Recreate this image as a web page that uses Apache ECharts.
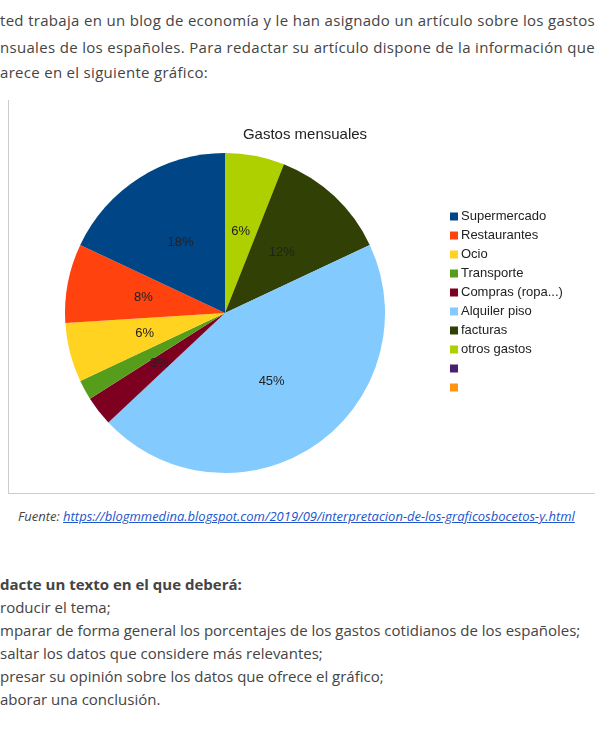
<!DOCTYPE html>
<html><head><meta charset="utf-8">
<script src="https://cdn.jsdelivr.net/npm/echarts@6/dist/echarts.min.js"></script>
<style>
body{margin:0;width:595px;height:740px;overflow:hidden;background:#fff;font-family:"Open Sans",sans-serif;color:#444;position:relative}
.t{position:absolute;left:0;white-space:nowrap;font-size:15px}
.j{width:595px;text-align:justify;text-align-last:justify;white-space:normal;overflow:hidden;height:22px;letter-spacing:0.3px}
#c{position:absolute;left:0;top:95px;width:595px;height:405px}
#fl{position:absolute;left:8px;top:100px;width:0;height:393px;border-left:1px solid #ccc}
#fb{position:absolute;left:8px;top:493px;width:587px;height:0;border-top:1px solid #ccc}
a{color:#2255cc}
</style></head><body>
<div class="t j" style="top:10px">ted trabaja en un blog de economía y le han asignado un artículo sobre los gastos</div>
<div class="t j" style="top:37px">nsuales de los españoles. Para redactar su artículo dispone de la información que</div>
<div class="t" style="top:62px;letter-spacing:0.3px">arece en el siguiente gráfico:</div>
<div id="fl"></div><div id="fb"></div>
<div id="c"></div>
<div class="t" style="top:507px;left:18px;font-size:13px;font-style:italic">Fuente: <a href="#">https://blogmmedina.blogspot.com/2019/09/interpretacion-de-los-graficosbocetos-y.html</a></div>
<div class="t" style="top:574px;font-weight:bold">dacte un texto en el que deberá:</div>
<div class="t" style="top:597px">roducir el tema;</div>
<div class="t" style="top:620px">mparar de forma general los porcentajes de los gastos cotidianos de los españoles;</div>
<div class="t" style="top:643px">saltar los datos que considere más relevantes;</div>
<div class="t" style="top:666px">presar su opinión sobre los datos que ofrece el gráfico;</div>
<div class="t" style="top:689px">aborar una conclusión.</div>
<script>
const categories=["otros gastos","facturas","Alquiler piso","Compras (ropa...)","Transporte","Ocio","Restaurantes","Supermercado"," ","  "];
const values=[6,12,45,3,2,6,8,18,0,0];
const colors=["#aecf00","#314004","#83caff","#7e0021","#579d1c","#ffd320","#ff420e","#004586","#4b1f6f","#ff950e"];
const legendOrder=["Supermercado","Restaurantes","Ocio","Transporte","Compras (ropa...)","Alquiler piso","facturas","otros gastos"," ","  "];
const ch=echarts.init(document.getElementById('c'));
ch.setOption({
 animation:false,
 title:{text:"Gastos mensuales",left:300,top:27,textAlign:'center',textStyle:{fontFamily:"Liberation Sans",fontWeight:'normal',fontSize:15,color:'#222'}},
 legend:{orient:'vertical',left:445,top:110,itemWidth:8,itemHeight:8,itemGap:6,icon:'rect',data:legendOrder,
   textStyle:{fontFamily:"Liberation Sans",fontSize:13,lineHeight:13,color:'#222',padding:[0,0,0,-2]}},
 series:[{type:'pie',center:[225,218],radius:160,startAngle:90,clockwise:true,
   label:{position:'inside',formatter:p=>p.value?p.value+'%':'',fontFamily:"Liberation Sans",fontSize:13,color:'#222'},
   labelLine:{show:false},
   data:categories.map((n,i)=>({name:n,value:values[i],itemStyle:{color:colors[i]}}))}]
});
</script></body></html>
